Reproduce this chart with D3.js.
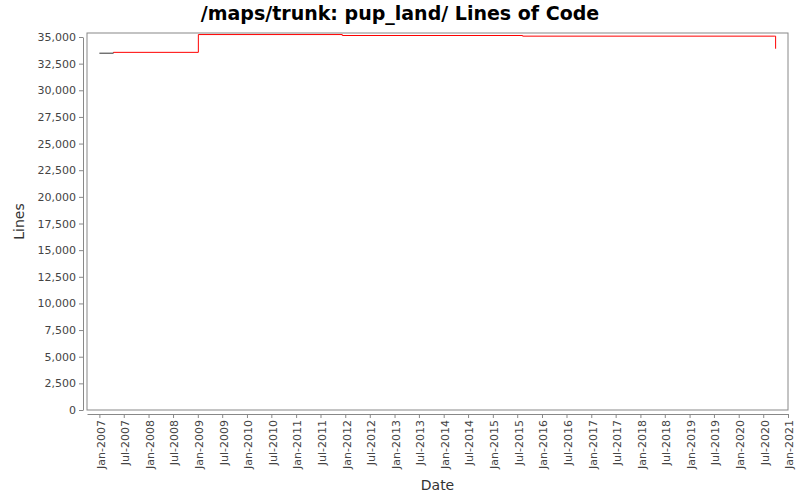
<!DOCTYPE html>
<meta charset="utf-8">
<html>
<head>
<script src="https://d3js.org/d3.v7.min.js"></script>
<style>
  body { margin: 0; background: #fff; }
  text { font-family: "DejaVu Sans", sans-serif; }
</style>
</head>
<body>
<script>
// data
const dates = ["2007-01-01", "2007-04-15", "2009-01-05", "2011-12-10", "2015-08-10", "2020-09-25", "2020-10-01"];
const lines = [33480, 33560, 35230, 35140, 35080, 35080, 33900];
const yTicks = d3.range(0, 35001, 2500);

const W = 800, H = 500;
const m = {top: 33, right: 12, bottom: 90, left: 87};
const parse = d3.timeParse("%Y-%m-%d");
const pts = dates.map((d, i) => ({date: parse(d), v: lines[i]}));

const svg = d3.select("body").append("svg").attr("width", W).attr("height", H);

const x = d3.scaleTime()
  .domain([new Date(2006, 9, 1), new Date(2021, 0, 1)])
  .range([m.left, W - m.right]);
const y = d3.scaleLinear().domain([0, 35000]).range([H - m.bottom, 37]);

svg.append("text").attr("x", W / 2).attr("y", 20).attr("text-anchor", "middle")
  .style("font-size", "19px").style("font-weight", "bold")
  .text("/maps/trunk: pup_land/ Lines of Code");

// frame
svg.append("rect").attr("x", m.left).attr("y", m.top)
  .attr("width", W - m.left - m.right).attr("height", H - m.top - m.bottom)
  .attr("fill", "none").attr("stroke", "#888");

const yAxis = svg.append("g").attr("transform", `translate(${m.left - 4},0)`)
  .call(d3.axisLeft(y).tickValues(yTicks).tickFormat(d3.format(",")).tickSize(4).tickSizeOuter(0));
yAxis.select(".domain").attr("stroke", "#888");
yAxis.selectAll(".tick line").attr("stroke", "#888");
yAxis.selectAll("text").style("font-size", "11px").attr("fill", "#444");

const xTicks = [];
for (let yr = 2007; yr <= 2021; yr++) {
  xTicks.push(new Date(yr, 0, 1));
  if (yr < 2021) xTicks.push(new Date(yr, 6, 1));
}
const xAxis = svg.append("g").attr("transform", `translate(0,${H - m.bottom + 4})`)
  .call(d3.axisBottom(x).tickValues(xTicks).tickFormat(d3.timeFormat("%b-%Y")).tickSize(4).tickSizeOuter(0));
xAxis.select(".domain").attr("stroke", "#888");
xAxis.selectAll(".tick line").attr("stroke", "#888");
xAxis.selectAll("text").style("font-size", "11px").attr("fill", "#444")
  .attr("transform", "rotate(-90)").attr("text-anchor", "end")
  .attr("x", -6).attr("y", 1).attr("dy", "0.35em");

svg.append("text").attr("x", (m.left + W - m.right) / 2).attr("y", 490)
  .attr("text-anchor", "middle").style("font-size", "14px").attr("fill", "#333").text("Date");
svg.append("text").attr("transform", `translate(24,${(m.top + H - m.bottom) / 2}) rotate(-90)`)
  .attr("text-anchor", "middle").style("font-size", "14px").attr("fill", "#333").text("Lines");

const line = d3.line().x(d => x(d.date)).y(d => y(d.v)).curve(d3.curveStepAfter);
svg.append("path").datum(pts.slice(0, 2)).attr("d", line)
  .attr("fill", "none").attr("stroke", "#333").attr("stroke-width", 1);
svg.append("path").datum(pts.slice(1)).attr("d", line)
  .attr("fill", "none").attr("stroke", "red").attr("stroke-width", 1);
</script>
</body>
</html>
